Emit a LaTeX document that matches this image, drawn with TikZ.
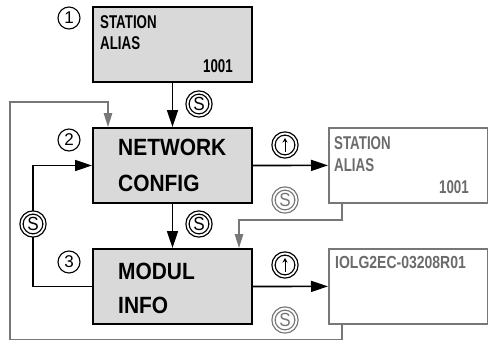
\documentclass[tikz,border=0pt]{standalone}
\usepackage{fontspec}
\setmainfont{Liberation Sans}
\newfontfamily\condf{Liberation Sans}[FakeStretch=0.72]
\newfontfamily\bigf{Liberation Sans}[FakeStretch=0.89]
\newfontfamily\idf{Liberation Sans}[FakeStretch=0.8]
\newfontfamily\symf{Liberation Sans}[FakeStretch=0.9]
\usetikzlibrary{arrows.meta}
\definecolor{boxfill}{HTML}{D9D9D9}
\definecolor{lgray}{HTML}{777777}
\definecolor{tgray}{HTML}{6B6B6B}
\tikzset{
  mainbox/.style={draw=black, line width=2pt, fill=boxfill, minimum width=159pt, minimum height=75pt, anchor=north west, inner sep=0pt},
  greybox/.style={draw=lgray, line width=1.8pt, fill=white, minimum width=159pt, minimum height=75pt, anchor=north west, inner sep=0pt},
  smalltxt/.style={inner sep=0pt, font=\condf\bfseries\fontsize{18.5}{20}\selectfont},
  smallgtxt/.style={smalltxt, text=tgray},
  idtxt/.style={inner sep=0pt, text=tgray, font=\idf\bfseries\fontsize{17.5}{20}\selectfont},
  bigtxt/.style={inner sep=0pt, anchor=base west, font=\bigf\bfseries\fontsize{23.5}{25}\selectfont},
  blk/.style={draw=black, line width=1.6pt, -{Triangle[length=17pt,width=11pt]}},
  gry/.style={draw=lgray, line width=1.4pt, -{Triangle[length=14pt,width=8.5pt]}},
  ssym/.style={circle, draw=#1, text=#1, fill=white, double=white, double distance=1.8pt, line width=1.3pt, minimum size=23pt, inner sep=0pt, font=\symf\fontsize{19}{19}\selectfont},
  usym/.style={circle, draw=black, fill=white, double=white, double distance=1.8pt, line width=1.3pt, minimum size=23pt, inner sep=0pt},
  numsym/.style={circle, draw=black, line width=1.1pt, minimum size=22pt, inner sep=0pt, font=\fontsize{17}{17}\selectfont}
}
\begin{document}
\begin{tikzpicture}[x=1pt, y=-1pt]
\useasboundingbox (0,0) rectangle (488,340);

% boxes
\node[mainbox] (b1) at (92,6) {};
\node[mainbox] (b2) at (92,127) {};
\node[mainbox] (b3) at (92,248) {};
\node[greybox] (b4) at (328,127) {};
\node[greybox] (b5) at (328,248) {};

% texts
\node[smalltxt, anchor=base west] (t1a) at (100,28) {STATION};
\node[smalltxt, anchor=base west] (t1b) at (100,49) {ALIAS};
\node[smalltxt, anchor=base east] (t1c) at (233,72) {1001};
\node[bigtxt] (t2a) at (118,155) {NETWORK};
\node[bigtxt] (t2b) at (118,191) {CONFIG};
\node[bigtxt] (t3a) at (118,279) {MODUL};
\node[bigtxt] (t3b) at (118,313) {INFO};
\node[smallgtxt, anchor=base west] (t4a) at (334,149) {STATION};
\node[smallgtxt, anchor=base west] (t4b) at (334,171) {ALIAS};
\node[smallgtxt, anchor=base east] (t4c) at (469,193) {1001};
\node[idtxt, anchor=base west] (t5a) at (335,268) {IOLG2EC-03208R01};

% step numbers
\node[numsym] (n1) at (69,18) {1};
\node[numsym] (n2) at (69,140) {2};
\node[numsym] (n3) at (69,262) {3};

% grey loops
\draw[gry] ([xshift=14pt]b4.south west) -- ++(0,16) -| ([xshift=-14pt]b3.north east);
\draw[gry] ([xshift=14pt]b5.south west) -- ++(0,14.5) -| (10,102) -| ([xshift=16pt]b2.north west);

% black connectors
\draw[blk] (b1.south) -- (b2.north);
\draw[blk] (b2.south) -- (b3.north);
\draw[blk] (b3.west) -- ++(-59,0) |- (b2.west);
\draw[blk] (b2.east) -- (b4.west);
\draw[blk] (b3.east) -- (b5.west);

% symbols
\node[ssym=black] (s1) at (199,104) {S};
\node[ssym=black] (s2) at (199,224) {S};
\node[ssym=black] (s3) at (33,224) {S};
\node[ssym=lgray] (g1) at (285,200) {S};
\node[ssym=lgray] (g2) at (285,320) {S};
\node[usym] (u1) at (285,145) {};
\node[usym] (u2) at (285,265) {};
\draw[line width=1pt, -{Stealth[length=4.5pt,width=5pt]}] ([yshift=-7pt]u1.center) -- ([yshift=7pt]u1.center);
\draw[line width=1pt, -{Stealth[length=4.5pt,width=5pt]}] ([yshift=-7pt]u2.center) -- ([yshift=7pt]u2.center);
\end{tikzpicture}
\end{document}
